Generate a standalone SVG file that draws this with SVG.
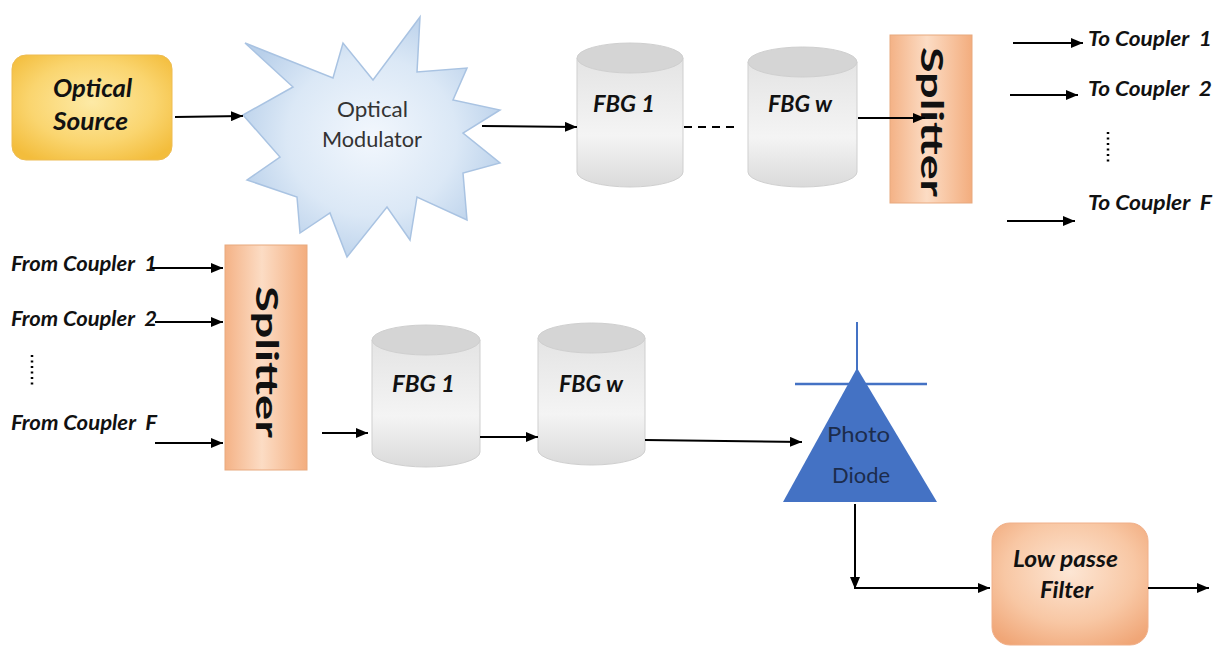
<svg xmlns="http://www.w3.org/2000/svg" width="1217" height="646" viewBox="0 0 1217 646">
<defs>
<radialGradient id="gSrc" cx="0.5" cy="0.45" r="0.65">
<stop offset="0" stop-color="#fdeaa6"/><stop offset="0.6" stop-color="#fad56f"/><stop offset="1" stop-color="#f3bd3c"/>
</radialGradient>
<radialGradient id="gStar" cx="0.5" cy="0.5" r="0.55">
<stop offset="0" stop-color="#f2f7fd"/><stop offset="0.6" stop-color="#dbe8f6"/><stop offset="1" stop-color="#b9d0ea"/>
</radialGradient>
<linearGradient id="gSpl" x1="0" y1="0" x2="1" y2="0">
<stop offset="0" stop-color="#f4b286"/><stop offset="0.45" stop-color="#fcdcc4"/><stop offset="1" stop-color="#f3ad7e"/>
</linearGradient>
<radialGradient id="gFil" cx="0.5" cy="0.4" r="0.7">
<stop offset="0" stop-color="#fde6d4"/><stop offset="0.6" stop-color="#f8c7a4"/><stop offset="1" stop-color="#f0a677"/>
</radialGradient>
<linearGradient id="gCyl" x1="0" y1="0" x2="0" y2="1">
<stop offset="0" stop-color="#e4e4e4"/><stop offset="0.6" stop-color="#f4f4f4"/><stop offset="1" stop-color="#dadada"/>
</linearGradient>
<marker id="ah" viewBox="0 0 12 10" refX="12" refY="5" markerWidth="12" markerHeight="10" markerUnits="userSpaceOnUse" orient="auto">
<path d="M0,0 L12,5 L0,10 Z" fill="#000"/>
</marker>
<style>
.lbl{font-family:Lato,"Liberation Sans",sans-serif;font-weight:bold;font-style:italic;fill:#111}
.reg{font-family:Lato,"Liberation Sans",sans-serif;fill:#333}
.pd{font-family:Lato,"Liberation Sans",sans-serif;fill:#1c2c4c;font-size:22px}
.spl{font-family:Lato,"Liberation Sans",sans-serif;font-weight:bold;fill:#111;font-size:30px}
.ln{stroke:#000;stroke-width:2;fill:none}
.arr{stroke:#000;stroke-width:2;fill:none;marker-end:url(#ah)}
.cyl{fill:url(#gCyl);stroke:#cfcfcf;stroke-width:1}
.top{fill:#d5d5d5;stroke:#cfcfcf;stroke-width:1}
.dots{stroke:#000;stroke-width:2.5;stroke-dasharray:2 3.5;fill:none}
</style>
</defs>

<g id="optical-source">
<rect x="12" y="55" width="160" height="105" rx="14" fill="url(#gSrc)" stroke="#eebc52" stroke-width="1"/>
<text class="lbl" x="53" y="97" font-size="25" textLength="79" lengthAdjust="spacingAndGlyphs">Optical</text>
<text class="lbl" x="53" y="130" font-size="25" textLength="75" lengthAdjust="spacingAndGlyphs">Source</text>
</g>

<g id="optical-modulator">
<polygon points="245,43 333,78 343,43 373,80 420,17 417,72 467,68 453,100 500,110 463,133 500,163 463,173 467,220 417,197 410,240 387,207 347,257 330,213 300,233 297,197 247,180 280,157 243,115 293,87" fill="url(#gStar)" stroke="#a9c3e2" stroke-width="1.5" stroke-linejoin="miter"/>
<text class="reg" x="337" y="117" font-size="21" textLength="71" lengthAdjust="spacingAndGlyphs">Optical</text>
<text class="reg" x="322" y="147" font-size="21" textLength="100" lengthAdjust="spacingAndGlyphs">Modulator</text>
</g>

<g id="fbg1-top">
<path class="cyl" d="M577,58 L577,172 A53,15 0 0 0 683,172 L683,58 Z"/>
<ellipse class="top" cx="630" cy="58" rx="53" ry="15"/>
<text class="lbl" x="593" y="112" font-size="23" textLength="62" lengthAdjust="spacingAndGlyphs">FBG 1</text>
</g>

<g id="fbgw-top">
<path class="cyl" d="M748,62 L748,172 A54.5,15 0 0 0 857,172 L857,62 Z"/>
<ellipse class="top" cx="802.5" cy="62" rx="54.5" ry="15"/>
<text class="lbl" x="768" y="112" font-size="23" textLength="64" lengthAdjust="spacingAndGlyphs">FBG w</text>
</g>

<g id="splitter-top">
<rect x="890" y="35" width="82" height="168" fill="url(#gSpl)" stroke="#e8a97f" stroke-width="1"/>
<text class="spl" transform="translate(931,122) rotate(90)" x="0" y="10" text-anchor="middle" textLength="150" lengthAdjust="spacingAndGlyphs">Splitter</text>
</g>

<g id="to-couplers">
<text class="lbl" x="1088" y="46" font-size="20" textLength="124" lengthAdjust="spacingAndGlyphs" xml:space="preserve">To Coupler  1</text>
<text class="lbl" x="1088" y="96" font-size="20" textLength="124" lengthAdjust="spacingAndGlyphs" xml:space="preserve">To Coupler  2</text>
<text class="lbl" x="1088" y="210" font-size="20" textLength="124" lengthAdjust="spacingAndGlyphs" xml:space="preserve">To Coupler  F</text>
<line class="dots" x1="1108" y1="132" x2="1108" y2="164"/>
</g>

<g id="from-couplers">
<text class="lbl" x="11" y="271" font-size="20" textLength="146" lengthAdjust="spacingAndGlyphs" xml:space="preserve">From Coupler  1</text>
<text class="lbl" x="11" y="326" font-size="20" textLength="146" lengthAdjust="spacingAndGlyphs" xml:space="preserve">From Coupler  2</text>
<text class="lbl" x="11" y="430" font-size="20" textLength="146" lengthAdjust="spacingAndGlyphs" xml:space="preserve">From Coupler  F</text>
<line class="dots" x1="32" y1="355" x2="32" y2="388"/>
</g>

<g id="splitter-bottom">
<rect x="225" y="245" width="82" height="225" fill="url(#gSpl)" stroke="#e8a97f" stroke-width="1"/>
<text class="spl" transform="translate(266,362) rotate(90)" x="0" y="10" text-anchor="middle" textLength="152" lengthAdjust="spacingAndGlyphs">Splitter</text>
</g>

<g id="fbg1-bottom">
<path class="cyl" d="M372,340 L372,452 A54,15 0 0 0 480,452 L480,340 Z"/>
<ellipse class="top" cx="426" cy="340" rx="54" ry="15"/>
<text class="lbl" x="392" y="392" font-size="23" textLength="63" lengthAdjust="spacingAndGlyphs">FBG 1</text>
</g>

<g id="fbgw-bottom">
<path class="cyl" d="M538,338 L538,450 A53.5,15 0 0 0 645,450 L645,338 Z"/>
<ellipse class="top" cx="591.5" cy="338" rx="53.5" ry="15"/>
<text class="lbl" x="559" y="392" font-size="23" textLength="64" lengthAdjust="spacingAndGlyphs">FBG w</text>
</g>

<g id="photo-diode">
<line x1="857" y1="322" x2="857" y2="370" stroke="#4472c4" stroke-width="2"/>
<line x1="795" y1="384" x2="927" y2="384" stroke="#4472c4" stroke-width="2.5"/>
<polygon points="857,368 937,502 783,502" fill="#4472c4"/>
<text class="pd" x="827" y="442" textLength="63" lengthAdjust="spacingAndGlyphs">Photo</text>
<text class="pd" x="832" y="483" textLength="58" lengthAdjust="spacingAndGlyphs">Diode</text>
</g>

<g id="low-pass-filter">
<rect x="992" y="523" width="156" height="122" rx="18" fill="url(#gFil)" stroke="#f0b08a" stroke-width="1"/>
<text class="lbl" x="1013" y="567" font-size="22" textLength="105" lengthAdjust="spacingAndGlyphs">Low passe</text>
<text class="lbl" x="1040" y="598" font-size="22" textLength="53" lengthAdjust="spacingAndGlyphs">Filter</text>
</g>

<g id="connectors">
<line class="arr" x1="175" y1="117" x2="243" y2="116"/>
<line class="arr" x1="482" y1="126" x2="577" y2="127"/>
<line class="ln" x1="684" y1="127" x2="737" y2="127" stroke-dasharray="8 6"/>
<line class="arr" x1="858" y1="118" x2="925" y2="118"/>
<line class="arr" x1="1013" y1="43" x2="1083" y2="43"/>
<line class="arr" x1="1010" y1="95" x2="1078" y2="95"/>
<line class="arr" x1="1007" y1="221" x2="1075" y2="221"/>
<line class="arr" x1="152" y1="268" x2="223" y2="268"/>
<line class="arr" x1="155" y1="322" x2="223" y2="322"/>
<line class="arr" x1="155" y1="443" x2="223" y2="443"/>
<line class="arr" x1="322" y1="433" x2="368" y2="433"/>
<line class="arr" x1="480" y1="437" x2="538" y2="437"/>
<line class="arr" x1="645" y1="440" x2="802" y2="442"/>
<line class="arr" x1="855" y1="504" x2="855" y2="589"/>
<line class="arr" x1="855" y1="588" x2="990" y2="588"/>
<line class="arr" x1="1148" y1="588" x2="1209" y2="588"/>
</g>
</svg>
